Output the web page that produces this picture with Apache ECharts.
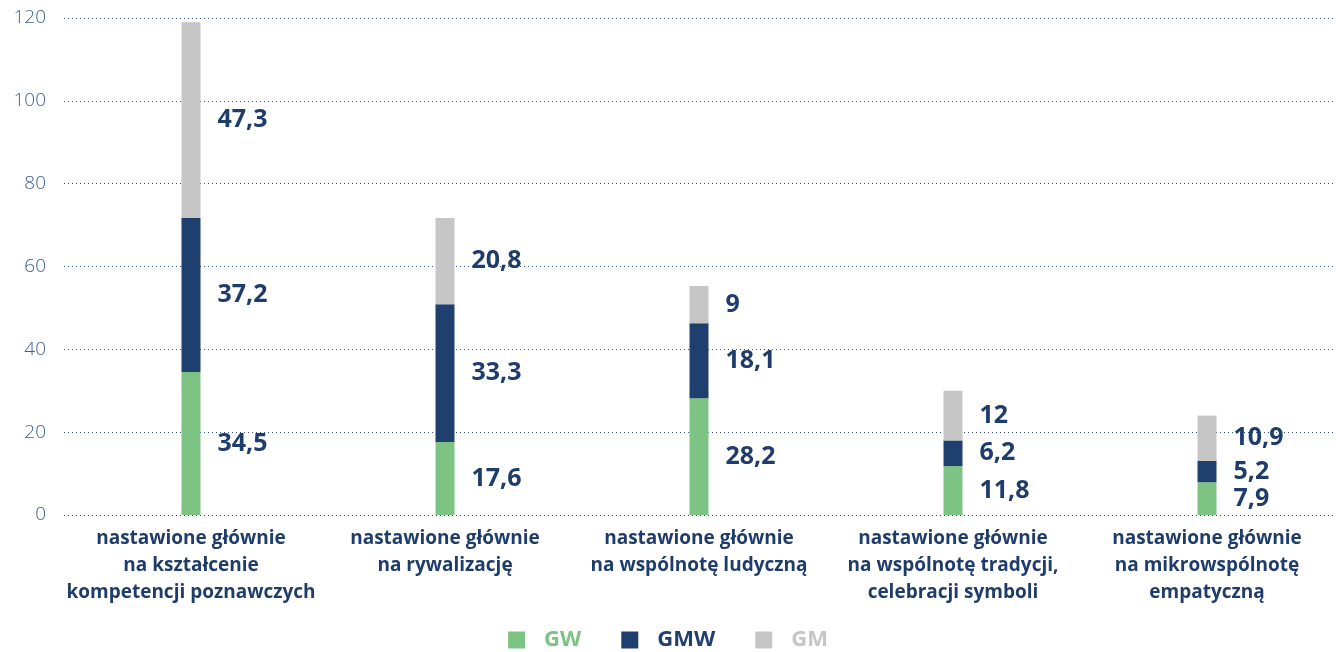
<!DOCTYPE html>
<html><head><meta charset="utf-8">
<script src="https://cdn.jsdelivr.net/npm/echarts@6/dist/echarts.min.js"></script>
<style>html,body{margin:0;padding:0;background:#fff}#c{width:1336px;height:652px}</style>
</head><body><div id="c"></div>
<script>
const categories = [
  "nastawione głównie\nna kształcenie\nkompetencji poznawczych",
  "nastawione głównie\nna rywalizację",
  "nastawione głównie\nna wspólnotę ludyczną",
  "nastawione głównie\nna wspólnotę tradycji,\ncelebracji symboli",
  "nastawione głównie\nna mikrowspólnotę\nempatyczną"
];
const seriesNames = ["GW", "GMW", "GM"];
const gw = [34.5, 17.6, 28.2, 11.8, 7.9];
const gmw = [37.2, 33.3, 18.1, 6.2, 5.2];
const gm = [47.3, 20.8, 9, 12, 10.9];
const yTicks = [0, 20, 40, 60, 80, 100, 120];

const colors = ["#7dc383", "#1f3f6e", "#c6c6c6"];
const navy = "#1f3d6b";
const font = "Open Sans";

const chart = echarts.init(document.getElementById('c'));
const mk = (name, data, color) => ({
  name, type: 'bar', stack: 'total', data, barWidth: 19,
  itemStyle: { color },
  label: {
    show: true, position: 'right', distance: 17,
    color: navy, fontFamily: font, fontWeight: 'bold', fontSize: 25,
    formatter: p => String(p.value).replace('.', ',')
  }
});
chart.setOption({
  animation: false,
  grid: { left: 64, right: 2, top: 18, bottom: 137 },
  xAxis: {
    type: 'category', data: categories,
    axisLine: { show: false }, axisTick: { show: false },
    axisLabel: { color: navy, fontFamily: font, fontWeight: 'bold', fontSize: 19, lineHeight: 27, margin: 10, interval: 0 }
  },
  yAxis: {
    type: 'value', min: yTicks[0], max: yTicks[yTicks.length - 1], interval: 20,
    axisLine: { show: false }, axisTick: { show: false },
    axisLabel: { color: "#3e5f8f", fontFamily: font, fontWeight: 300, fontSize: 19, margin: 18 },
    splitLine: { lineStyle: { color: "#2f4f80", type: [1, 3], width: 1 } }
  },
  legend: {
    bottom: -4, left: 'center', itemWidth: 17, itemHeight: 17, itemGap: 40,
    icon: 'rect',
    textStyle: { fontFamily: font, fontWeight: 'bold', fontSize: 22, padding: [0, 0, 0, 14] },
    data: seriesNames.map((n, i) => ({ name: n, textStyle: { color: colors[i] } }))
  },
  series: [mk(seriesNames[0], gw, colors[0]), mk(seriesNames[1], gmw, colors[1]), mk(seriesNames[2], gm, colors[2])]
});
</script></body></html>
